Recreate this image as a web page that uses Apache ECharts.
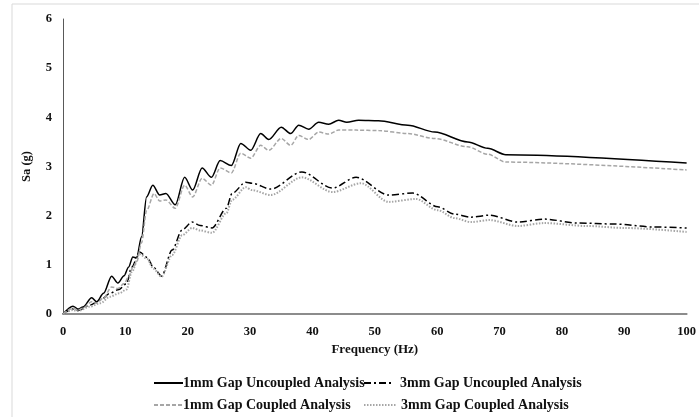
<!DOCTYPE html>
<html>
<head>
<meta charset="utf-8">
<script src="https://cdn.jsdelivr.net/npm/echarts@6/dist/echarts.min.js"></script>
<style>html,body{margin:0;padding:0;background:#fff;}#c{width:699px;height:417px;}</style>
</head>
<body>
<div id="c"></div>
<script>
var seriesNames = ['1mm Gap Uncoupled Analysis', '3mm Gap Uncoupled Analysis', '1mm Gap Coupled Analysis', '3mm Gap Coupled Analysis'];
var xTicks = [0, 10, 20, 30, 40, 50, 60, 70, 80, 90, 100];
var yTicks = [0, 1, 2, 3, 4, 5, 6];

var freq1mmUncoupled = [0,1.6,2.4,3.2,4.6,5.4,6.5,7.8,8.8,9.8,10.5,11.2,11.8,12.6,13.4,14.4,15.5,16.5,18,19.5,20.8,22.3,23.8,25.2,27,28.5,30.1,31.7,33,35,36.5,37.8,39.4,41,42.6,44.2,45.5,47.4,50.6,55.3,59.6,64.9,68.1,71,100];
var sa1mmUncoupled   = [0,0.16,0.1,0.14,0.33,0.25,0.42,0.77,0.63,0.78,0.95,1.16,1.14,1.57,2.38,2.62,2.42,2.45,2.22,2.78,2.52,2.97,2.78,3.12,3.02,3.47,3.33,3.67,3.55,3.80,3.67,3.84,3.76,3.90,3.86,3.94,3.90,3.94,3.93,3.84,3.70,3.50,3.37,3.24,3.07];

var freq1mmCoupled = [0,1.6,2.4,3.2,4.6,5.4,6.5,7.8,8.8,9.8,10.5,11.2,11.8,12.6,13.4,14.6,15.5,16.5,18,19.5,20.8,22.3,23.8,25.2,27,28.5,30.1,31.7,33,35,36.5,37.8,39.4,41,42.6,44.2,47,50.6,55.3,59.6,64.9,68.1,71,100];
var sa1mmCoupled   = [0,0.12,0.08,0.12,0.25,0.22,0.33,0.55,0.52,0.62,0.75,0.95,1.05,1.45,2.1,2.45,2.3,2.32,2.15,2.62,2.38,2.76,2.62,2.97,2.87,3.27,3.17,3.43,3.33,3.57,3.43,3.63,3.55,3.70,3.66,3.74,3.74,3.73,3.67,3.57,3.40,3.25,3.09,2.93];

var freq3mmUncoupled = [0,1.6,2.4,4.3,6,7.5,9,10.2,11,12.3,13.5,14.5,15.8,17.5,19.1,20.7,22,23.9,26.2,27.1,29.3,30.3,33.3,38.3,43.2,47,52.2,56.1,60.1,62.8,65.4,68.4,72.9,77.2,82.5,88.4,94.7,100];
var sa3mmUncoupled   = [0,0.1,0.07,0.18,0.28,0.42,0.5,0.62,0.95,1.26,1.15,0.95,0.77,1.3,1.71,1.87,1.8,1.75,2.15,2.45,2.68,2.66,2.54,2.89,2.56,2.78,2.42,2.46,2.18,2.03,1.97,2.01,1.87,1.93,1.85,1.83,1.77,1.75];

var freq3mmCoupled = [0,1.6,2.4,4.3,6,7.5,9,10.2,11,12.3,13.5,14.5,15.8,17.5,19.1,20.7,22,23.9,26.2,27.1,29.3,30.3,33.3,38.3,43.2,47.8,52.2,56.6,60.1,62.8,65.4,68.4,72.9,77.2,84,90,100];
var sa3mmCoupled   = [0,0.08,0.06,0.15,0.22,0.35,0.42,0.5,0.85,1.22,1.12,0.92,0.76,1.2,1.6,1.75,1.7,1.65,2.05,2.32,2.58,2.52,2.42,2.78,2.48,2.66,2.28,2.34,2.11,1.95,1.87,1.91,1.79,1.85,1.79,1.75,1.67];

function pairs(xs, ys) { return xs.map(function (x, i) { return [x, ys[i]]; }); }

var FONT = 'Liberation Serif';
var chart = echarts.init(document.getElementById('c'), null, {renderer: 'canvas'});

function mkSeries(name, xs, ys, color, type, width) {
  return {
    name: name, type: 'line', data: pairs(xs, ys), symbol: 'none', smooth: 0.3, smoothMonotone: 'x',
    lineStyle: {color: color, width: width, type: type}, itemStyle: {color: color}, animation: false
  };
}

function mkLegend(name, left, top, textPad, itemWidth) {
  return {
    data: [name], left: left, top: top, itemWidth: itemWidth, itemHeight: 12, padding: 0,
    itemStyle: {opacity: 0, borderWidth: 0},
    textStyle: {fontFamily: FONT, fontWeight: 'bold', fontSize: 14, color: '#111', padding: [0, 0, 0, textPad]}
  };
}

chart.setOption({
  backgroundColor: '#fff',
  animation: false,
  graphic: [{type: 'rect', shape: {x: 12, y: 4, width: 700, height: 430}, style: {fill: 'none', stroke: '#d9d9d9', lineWidth: 1}, silent: true}],
  grid: {left: 63, right: 9, top: 19, bottom: 103, containLabel: false},
  legend: [
    mkLegend(seriesNames[0], 153, 376, -5, 29),
    mkLegend(seriesNames[1], 363, 376, 3, 28),
    mkLegend(seriesNames[2], 153, 398, -5, 29),
    mkLegend(seriesNames[3], 363, 398, 0, 32)
  ],
  xAxis: {
    type: 'value', min: xTicks[0], max: xTicks[xTicks.length - 1], interval: 10,
    name: 'Frequency (Hz)', nameLocation: 'middle', nameGap: 27,
    nameTextStyle: {fontFamily: FONT, fontWeight: 'bold', fontSize: 13, color: '#111'},
    axisLine: {show: true, lineStyle: {color: '#8c8c8c', width: 2}},
    axisTick: {show: false}, splitLine: {show: false},
    axisLabel: {fontFamily: FONT, fontWeight: 'bold', fontSize: 12.5, color: '#111', margin: 11}
  },
  yAxis: {
    type: 'value', min: yTicks[0], max: yTicks[yTicks.length - 1], interval: 1,
    name: 'Sa (g)', nameLocation: 'middle', nameGap: 30, nameRotate: 90,
    nameTextStyle: {fontFamily: FONT, fontWeight: 'bold', fontSize: 12.5, color: '#111'},
    axisLine: {show: true, lineStyle: {color: '#595959', width: 1}},
    axisTick: {show: false}, splitLine: {show: false},
    axisLabel: {fontFamily: FONT, fontWeight: 'bold', fontSize: 12.5, color: '#111', margin: 11}
  },
  series: [
    mkSeries(seriesNames[0], freq1mmUncoupled, sa1mmUncoupled, '#000000', 'solid', 1.5),
    mkSeries(seriesNames[1], freq3mmUncoupled, sa3mmUncoupled, '#000000', [7, 3, 2, 3], 1.5),
    mkSeries(seriesNames[2], freq1mmCoupled, sa1mmCoupled, '#a6a6a6', [4, 2], 1.5),
    mkSeries(seriesNames[3], freq3mmCoupled, sa3mmCoupled, '#a6a6a6', [1.5, 1.5], 2)
  ]
});
</script>
</body>
</html>
